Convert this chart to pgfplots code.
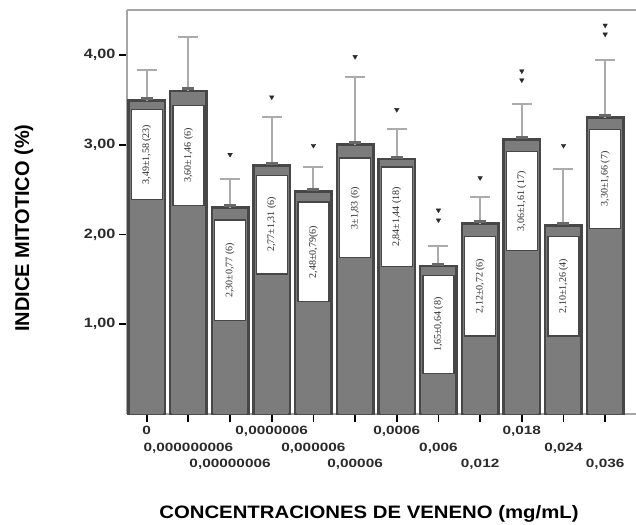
\documentclass[border=0pt]{standalone}
\usepackage{pgfplots}
\pgfplotsset{compat=1.18}
\usepackage{fontspec}
\usepackage{graphicx}
\setmainfont{Liberation Sans}
\newfontfamily\serifl{Liberation Serif}
\definecolor{barfill}{HTML}{7C7C7C}
\definecolor{barline}{HTML}{474747}
\definecolor{errc}{HTML}{ABABAB}
\definecolor{framec}{HTML}{A6A6A6}
\definecolor{txt}{HTML}{2B2B2B}
\newcommand{\sx}[1]{\scalebox{1.28}[1]{#1}}
\newcommand{\sy}[1]{\scalebox{1.2}[1]{#1}}
\newcommand{\xl}[2]{\rule{0pt}{9bp}\smash{\raisebox{-#1}{\sx{#2}}}}
\begin{document}
\begin{tikzpicture}
\begin{axis}[
 scale only axis, width=509bp, height=404bp,
 at={(0,0)}, anchor=south west,
 xmin=-0.473, xmax=11.74, ymin=0, ymax=4.5,
 separate axis lines, axis x line*=box, axis y line*=left,
 axis line style={-, draw=framec, line width=1.5bp},
 xtick={0,...,11}, xtick pos=bottom, ytick={1,2,3,4}, ytick pos=left,
 tick align=outside, major tick length=8bp,
 every tick/.style={black, line width=1.8bp},
 xticklabels={{\xl{0bp}{0}},{\xl{16.5bp}{0,000000006}},{\xl{33bp}{0,00000006}},
   {\xl{0bp}{0,0000006}},{\xl{16.5bp}{0,000006}},{\xl{33bp}{0,00006}},
   {\xl{0bp}{0,0006}},{\xl{16.5bp}{0,006}},{\xl{33bp}{0,012}},
   {\xl{0bp}{0,018}},{\xl{16.5bp}{0,024}},{\xl{33bp}{0,036}}},
 xticklabel style={anchor=north, font=\fontsize{12bp}{14bp}\selectfont\bfseries, text=txt},
 yticklabels={{\sy{1,00}},{\sy{2,00}},{\sy{3,00}},{\sy{4,00}}},
 yticklabel style={font=\fontsize{13.5bp}{16bp}\selectfont\bfseries, text=txt},
 /pgf/number format/assume math mode=true,
 xlabel={\scalebox{1.13}[1]{CONCENTRACIONES DE VENENO (mg/mL)}},
 xlabel style={at={(axis description cs:0.4754,-0.2463)}, anchor=center, font=\fontsize{18bp}{20bp}\selectfont\bfseries, text=black},
 ylabel={INDICE MITOTICO (\%)},
 ylabel style={at={(axis description cs:-0.2024,0.46)}, anchor=center, font=\fontsize{20bp}{22bp}\selectfont\bfseries, text=black},
 clip=false,
]
% outer bars with standard-error bars
\addplot[ybar, bar width=36.5bp, bar shift=0pt, fill=barfill, draw=barline, line width=2.5bp,
  error bars/.cd, y dir=plus, y explicit,
  error bar style={draw=errc, line width=2bp},
  error mark options={draw=errc, line width=2bp, mark size=10bp, rotate=90}]
 table[x=x, y=y, y error=e] {
x y e
0 3.49 0.34
1 3.60 0.60
2 2.30 0.32
3 2.77 0.54
4 2.48 0.27
5 3.00 0.75
6 2.84 0.34
7 1.65 0.22
8 2.12 0.30
9 3.06 0.39
10 2.10 0.63
11 3.30 0.64
};
% white label boxes (top)
\addplot[ybar, bar width=31bp, bar shift=0pt, fill=white, draw=barline, line width=1.3bp]
 table[x=x, y=y] {
x y
0 3.39
1 3.44
2 2.16
3 2.66
4 2.36
5 2.85
6 2.75
7 1.54
8 1.98
9 2.92
10 1.98
11 3.17
};
% gray part below the boxes
\addplot[ybar, bar width=33bp, bar shift=0pt, fill=barfill, draw=none]
 table[x=x, y=y] {
x y
0 2.39
1 2.32
2 1.04
3 1.56
4 1.25
5 1.74
6 1.64
7 0.45
8 0.87
9 1.82
10 0.87
11 2.07
};
% bottom edges of the boxes
\addplot[only marks, mark=-, mark size=16.15bp, mark options={draw=barline, line width=1.3bp}]
 table[x=x, y=y] {
x y
0 2.39
1 2.32
2 1.04
3 1.56
4 1.25
5 1.74
6 1.64
7 0.45
8 0.87
9 1.82
10 0.87
11 2.07
};
% small caps at error-bar bases
\addplot[only marks, mark=-, mark size=6bp, mark options={draw=barfill!85!black, line width=3bp, yshift=1.8bp}]
 table[x=x, y=y] {
x y
0 3.49
1 3.60
2 2.30
3 2.77
4 2.48
5 3.00
6 2.84
7 1.65
8 2.12
9 3.06
10 2.10
11 3.30
};
% significance marks
\addplot[only marks, mark=triangle*, mark size=2.6bp, mark options={fill=txt, draw=txt, rotate=180}]
 coordinates {(2,2.89) (3,3.53) (4,2.99) (5,3.98) (6,3.39) (7,2.27) (7,2.16) (8,2.63) (9,3.82) (9,3.72) (10,2.99) (11,4.33) (11,4.23)};
% box labels
\addplot[draw=none, mark=none, nodes near coords, point meta=explicit symbolic,
  nodes near coords style={rotate=90, anchor=center, inner sep=0pt, font=\serifl\fontsize{10bp}{12bp}\selectfont, text=txt}]
 table[x=x, y=y, meta=lab, col sep=semicolon, row sep=\\] {
x;y;lab\\
0;2.89;3,49±1,58 (23)\\
1;2.88;3,60±1,46 (6)\\
2;1.60;2,30±0,77 (6)\\
3;2.11;2,77±1,31 (6)\\
4;1.805;2,48±0,79(6)\\
5;2.295;3±1,83 (6)\\
6;2.195;2,84±1,44 (18)\\
7;0.995;1,65±0,64 (8)\\
8;1.425;2,12±0,72 (6)\\
9;2.37;3,06±1,61 (17)\\
10;1.425;2,10±1,26 (4)\\
11;2.62;3,30±1,66 (7)\\
};
\end{axis}
\pgfresetboundingbox
\path (-127bp,-111bp) rectangle (509bp,414bp);
\end{tikzpicture}
\end{document}
